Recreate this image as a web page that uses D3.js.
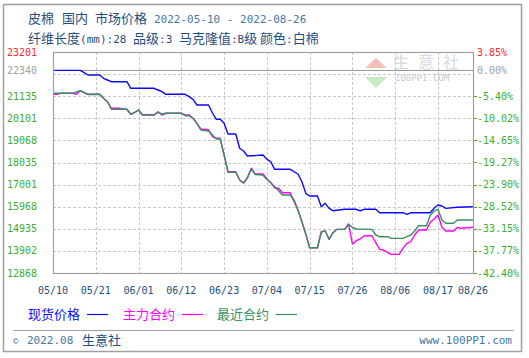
<!DOCTYPE html>
<html><head><meta charset="utf-8">
<script src="https://cdn.jsdelivr.net/npm/d3@7"></script>
<style>
html,body{margin:0;padding:0;background:#fff;}
svg{display:block;}
text{white-space:pre;}
</style></head>
<body>
<svg id="chart" width="529" height="358"></svg>
<script>
// ---------- DATA ----------
const baseValue = 22340;
const yMin = 12868, yMax = 23201;
const leftTickLabels = ["12868","13902","14935","15968","17001","18035","19068","20101","21135","22340","23201"];
const rightTickLabels = ["-42.40%","-37.77%","-33.15%","-28.52%","-23.90%","-19.27%","-14.65%","-10.02%","-5.40%","0.00%","3.85%"];
const xTickDates = ["2022-05-10","2022-05-21","2022-06-01","2022-06-12","2022-06-23","2022-07-04","2022-07-15","2022-07-26","2022-08-06","2022-08-17","2022-08-26"];
const xTickLabels = ["05/10","05/21","06/01","06/12","06/23","07/04","07/15","07/26","08/06","08/17","08/26"];
const seriesNames = ["现货价格","主力合约","最近合约"];

const spotDates = ["05-10","05-17","05-18","05-19","05-22","05-23","05-24","05-25","05-29","05-30","06-05","06-06","06-07","06-08","06-13","06-14","06-15","06-16","06-19","06-20","06-21","06-22","06-23","06-24","06-26","06-27","06-28","06-29","07-03","07-04","07-05","07-06","07-10","07-12","07-13","07-14","07-15","07-17","07-18","07-19","07-20","07-21","07-24","07-27","07-28","07-29","08-01","08-02","08-08","08-09","08-10","08-15","08-16","08-17","08-18","08-19","08-22","08-26"];
const spotValues = [22340,22340,22233,22126,22126,21971,21892,21812,21812,21504,21504,21424,21345,21223,21223,21111,20989,20723,20723,20349,20054,20054,19867,19367,19367,18700,18572,18338,18385,18184,18071,17716,17716,17496,17136,16594,16468,16468,15968,16126,15892,15780,15846,15846,15780,15846,15846,15687,15687,15612,15687,15687,15892,16047,16000,15892,15939,15968];

const mainDates = ["05-10","05-11","05-12","05-15","05-16","05-17","05-18","05-19","05-22","05-23","05-24","05-25","05-27","05-28","05-29","05-30","05-31","06-01","06-02","06-05","06-06","06-07","06-08","06-12","06-13","06-14","06-15","06-16","06-17","06-19","06-20","06-21","06-22","06-23","06-24","06-26","06-27","06-28","06-29","06-30","07-01","07-03","07-04","07-05","07-06","07-07","07-08","07-10","07-11","07-12","07-13","07-14","07-15","07-17","07-18","07-19","07-20","07-21","07-22","07-24","07-25","07-26","07-27","07-28","07-29","07-31","08-01","08-02","08-03","08-04","08-05","08-07","08-08","08-09","08-10","08-11","08-12","08-14","08-15","08-16","08-17","08-18","08-19","08-21","08-22","08-23","08-26"];
const mainValues = [21223,21223,21270,21270,21223,21391,21307,21223,21223,21036,20877,20569,20569,20522,20522,20288,20381,20490,20270,20270,20409,20255,20335,20335,20255,20255,20101,19867,19600,19568,19240,19166,19166,18385,17600,17600,17216,17075,17330,17770,17496,17496,17263,17090,16856,16828,16622,16622,16201,15813,15266,14690,14050,14050,14798,14831,14443,14751,14910,14910,15158,14223,14378,14457,14611,14611,14284,13975,13942,13835,13741,13741,14022,14256,14331,14644,14878,14878,15238,15392,15579,15004,14831,14831,15004,14957,15004];

const nearDates = ["05-10","05-15","05-17","05-19","05-22","05-23","05-24","05-25","05-29","05-30","05-31","06-01","06-02","06-05","06-06","06-07","06-08","06-12","06-13","06-14","06-15","06-16","06-17","06-19","06-20","06-21","06-22","06-23","06-24","06-26","06-27","06-28","06-29","06-30","07-01","07-03","07-04","07-05","07-06","07-07","07-08","07-10","07-11","07-12","07-13","07-14","07-15","07-17","07-18","07-19","07-20","07-21","07-22","07-24","07-25","07-26","07-27","07-31","08-01","08-02","08-04","08-05","08-08","08-09","08-10","08-11","08-12","08-14","08-15","08-16","08-17","08-18","08-19","08-21","08-22","08-26"];
const nearValues = [21270,21270,21391,21214,21223,21036,20877,20522,20522,20288,20381,20490,20255,20255,20381,20302,20335,20335,20222,20222,20101,19867,19554,19507,19320,19133,19133,18385,17576,17576,17216,17075,17309,17730,17473,17450,17240,17090,16902,16716,16514,16514,16281,15813,15266,14690,14050,14050,14798,14831,14443,14751,14910,14910,15144,15004,14925,14910,14644,14565,14565,14489,14489,14565,14644,14831,15079,15079,15556,15766,15846,15345,15191,15191,15345,15345];

// ---------- LAYOUT ----------
const svg = d3.select("#chart");
const L = 53, R = 473, T = 52, B = 273;
const parse = d3.timeParse("%Y-%m-%d");
const x = d3.scaleTime().domain([parse("2022-05-10"), parse("2022-08-26")]).range([L, R]);
const y = d3.scaleLinear().domain([yMin, yMax]).range([B, T]);
const cjk = "SimSun,'Noto Sans CJK SC',sans-serif";
const mono = "'DejaVu Sans Mono','Liberation Mono',monospace";
const green = "#3cae2c", red = "#ff2a2a", grey = "#a0a0a0", navy = "#1f4e7e";

// outer frame
svg.append("rect").attr("x",3.5).attr("y",4.5).attr("width",518).attr("height",347)
  .attr("fill","none").attr("stroke","#a0a0a0").attr("stroke-width",1.5);

// title
const t1 = svg.append("g").attr("font-family", cjk).attr("font-size", 13).attr("fill", navy);
t1.append("text").attr("x",28).attr("y",23).text("皮棉");
t1.append("text").attr("x",62).attr("y",23).text("国内");
t1.append("text").attr("x",95).attr("y",23).text("市场价格");
svg.append("text").attr("x",154).attr("y",23).attr("font-family",mono).attr("font-size",11)
  .attr("fill","#4677a8").text("2022-05-10 - 2022-08-26");
const sub = svg.append("text").attr("x",28).attr("y",43).attr("fill",navy);
[["纤维长度",0],["(mm):28 ",1],["品级",0],[":3 ",1],["马克隆值",0],[":B",1],["级 ",0],["颜色",0],[":",1],["白棉",0]]
  .forEach(([s,m]) => sub.append("tspan").attr("font-family", m ? mono : cjk).attr("font-size", m ? 11 : 13).text(s));

// watermark
const wm = svg.append("g").attr("opacity",0.9);
wm.append("path").attr("d","M365,68 L376,58 L387,68 Z").attr("fill","#f5b9b2");
wm.append("path").attr("d","M365,77 L376,88 L387,77 Z").attr("fill","#bfe9bf");
wm.append("text").attr("x",393).attr("y",68).attr("font-family",cjk).attr("font-size",16)
  .attr("letter-spacing",9).attr("fill","#cfd6e4").text("生意社");
wm.append("text").attr("x",395).attr("y",81).attr("font-family",mono).attr("font-size",9)
  .attr("fill","#c4c4c4").text("100PPI.COM");

// grid
const gridVals = d3.range(1, 10).map(k => yMin + k * (yMax - yMin) / 10);
svg.append("g").selectAll("line").data(gridVals).join("line")
  .attr("x1",L).attr("x2",R).attr("y1",d=>Math.round(y(d))+0.5).attr("y2",d=>Math.round(y(d))+0.5)
  .attr("stroke","#c8c8c8").attr("stroke-dasharray","3,2");
svg.append("g").selectAll("line").data(xTickDates.slice(1, -1)).join("line")
  .attr("x1",d=>Math.round(x(parse(d)))+0.5).attr("x2",d=>Math.round(x(parse(d)))+0.5)
  .attr("y1",T).attr("y2",B)
  .attr("stroke","#c8c8c8").attr("stroke-dasharray","3,2");
// base line
svg.append("line").attr("x1",L).attr("x2",R).attr("y1",Math.round(y(baseValue))+0.5).attr("y2",Math.round(y(baseValue))+0.5)
  .attr("stroke","#9a9a9a");

// series
const lineGen = d3.line().x(d=>x(d[0])).y(d=>y(d[1]));
function pts(dates, vals){ return dates.map((d,i)=>[parse("2022-"+d), vals[i]]); }
const series = [
  {name:seriesNames[0], data:pts(spotDates, spotValues), color:"#0a0aff"},
  {name:seriesNames[1], data:pts(mainDates, mainValues), color:"#ff00ff"},
  {name:seriesNames[2], data:pts(nearDates, nearValues), color:"#3b8f5e"}
];
svg.append("g").selectAll("path").data(series).join("path")
  .attr("d", d=>lineGen(d.data)).attr("fill","none")
  .attr("stroke", d=>d.color).attr("stroke-width",1.4).attr("stroke-linejoin","round");

// plot frame
svg.append("rect").attr("x",L+0.5).attr("y",T+0.5).attr("width",R-L).attr("height",B-T)
  .attr("fill","none").attr("stroke","#a0a0a0").attr("stroke-width",1.2);

// left axis labels
const lc = (i)=> i===leftTickLabels.length-1 ? red : (i===leftTickLabels.length-2 ? grey : green);
svg.append("g").selectAll("text").data(leftTickLabels).join("text")
  .attr("x",37).attr("y",d=>y(+d)).attr("dy","0.35em").attr("text-anchor","end")
  .attr("font-family",mono).attr("font-size",10).attr("fill",(d,i)=>lc(i)).text(d=>d);
// right axis labels
svg.append("g").selectAll("text").data(rightTickLabels).join("text")
  .attr("x",477).attr("y",(d,i)=>y(+leftTickLabels[i])).attr("dy","0.35em").attr("text-anchor","start")
  .attr("font-family",mono).attr("font-size",10).attr("fill",(d,i)=>lc(i)).text(d=>d);
// right tick marks
svg.append("g").selectAll("line").data(leftTickLabels.slice(0,-2)).join("line")
  .attr("x1",R+1).attr("x2",R+4).attr("y1",d=>Math.round(y(+d))+0.5).attr("y2",d=>Math.round(y(+d))+0.5)
  .attr("stroke",green);

// x axis labels
svg.append("g").selectAll("text").data(xTickDates).join("text")
  .attr("x",d=>x(parse(d))).attr("y",294).attr("text-anchor","middle")
  .attr("font-family",mono).attr("font-size",10).attr("fill",navy).text((d,i)=>xTickLabels[i]);

// legend
const legX = [28, 123, 217];
const lg = svg.append("g").selectAll("g").data(series).join("g")
  .attr("transform",(d,i)=>`translate(${legX[i]},314)`);
lg.append("text").attr("x",0).attr("dy","0.35em").attr("font-family",cjk).attr("font-size",13)
  .attr("fill",d=>d.color).text(d=>d.name);
lg.append("line").attr("x1",59).attr("x2",80).attr("y1",0.5).attr("y2",0.5)
  .attr("stroke",d=>d.color).attr("stroke-width",1.2);

// footer
svg.append("line").attr("x1",13).attr("x2",514).attr("y1",330.5).attr("y2",330.5).attr("stroke","#a0a0a0");
svg.append("text").attr("x",13).attr("y",344).attr("font-family",mono).attr("font-size",9).attr("fill","#4677a8").text("©");
svg.append("text").attr("x",27).attr("y",344).attr("font-family",mono).attr("font-size",11).attr("fill","#4677a8").text("2022.08");
svg.append("text").attr("x",82).attr("y",345).attr("font-family",cjk).attr("font-size",13).attr("fill",navy).text("生意社");
svg.append("text").attr("x",512).attr("y",344).attr("text-anchor","end").attr("font-family",mono).attr("font-size",11).attr("fill","#4677a8").text("www.100PPI.com");
</script>
</body></html>
